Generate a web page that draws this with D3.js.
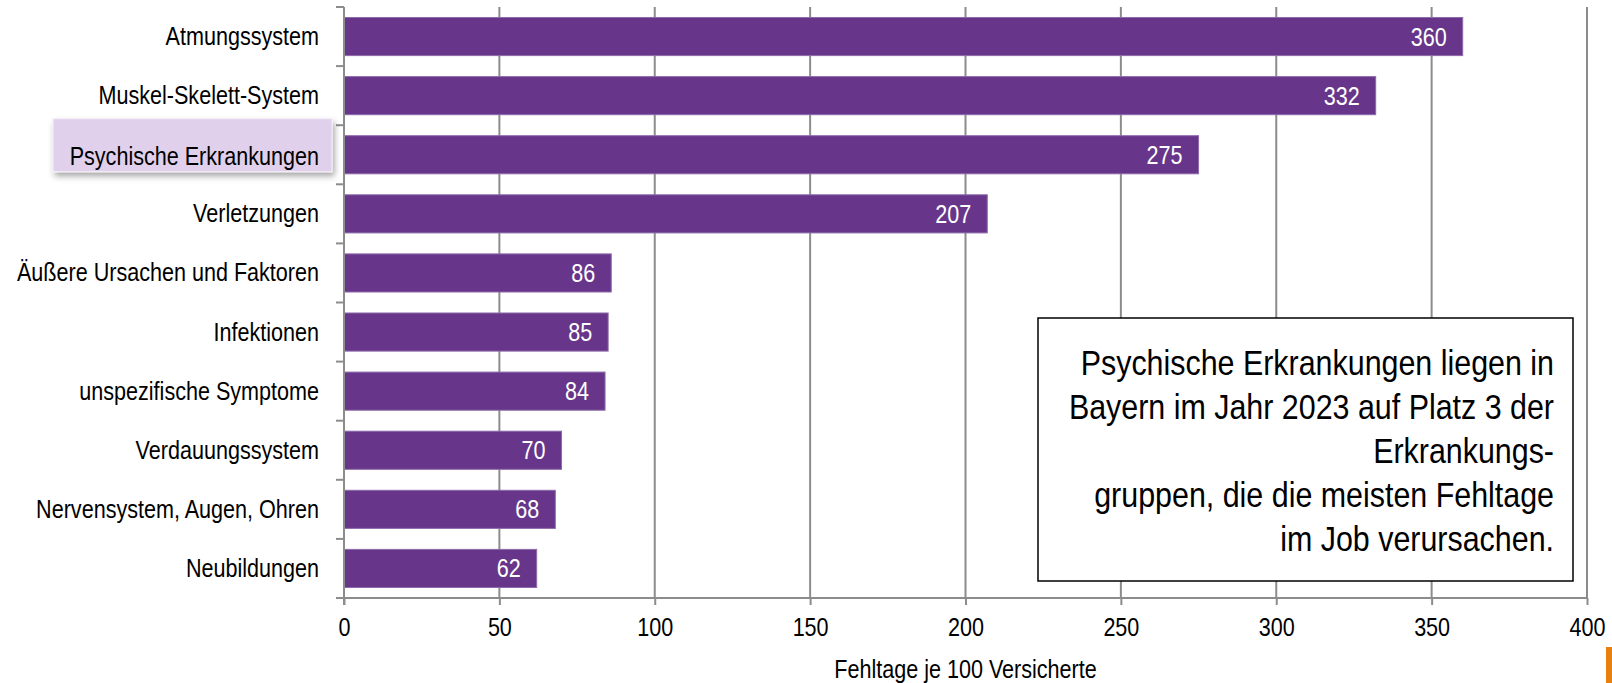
<!DOCTYPE html>
<html>
<head>
<meta charset="utf-8">
<script src="https://cdn.jsdelivr.net/npm/d3@7"></script>
<style>
  html, body { margin: 0; padding: 0; background: #fff; }
  svg { display: block; font-family: "Liberation Sans", Arial, sans-serif; }
</style>
</head>
<body>
<svg id="chart" width="1612" height="683"></svg>
<script>
const categories = [
  "Atmungssystem",
  "Muskel-Skelett-System",
  "Psychische Erkrankungen",
  "Verletzungen",
  "Äußere Ursachen und Faktoren",
  "Infektionen",
  "unspezifische Symptome",
  "Verdauungssystem",
  "Nervensystem, Augen, Ohren",
  "Neubildungen"
];
const values = [360, 332, 275, 207, 86, 85, 84, 70, 68, 62];
const xTicks = [0, 50, 100, 150, 200, 250, 300, 350, 400];
const highlighted = "Psychische Erkrankungen";
const axisTitle = "Fehltage je 100 Versicherte";
const noteLines = [
  "Psychische Erkrankungen liegen in",
  "Bayern im Jahr 2023 auf Platz 3 der",
  "Erkrankungs-",
  "gruppen, die die meisten Fehltage",
  "im Job verursachen."
];

(function () {
const svg = d3.select("#chart");
const pL = 344, pR = 1587, pT = 7, pB = 598;
const NS = 0.83; // narrow font emulation

const x = d3.scaleLinear().domain([0, 400]).range([pL, pR]);
const y = d3.scaleBand().domain(categories).range([pT, pB]).paddingInner(0.355).paddingOuter(0.1775);
const bandStep = y.step();

const defs = svg.append("defs");
const f = defs.append("filter").attr("id", "shadow").attr("x", "-10%").attr("y", "-30%").attr("width", "130%").attr("height", "180%");
f.append("feDropShadow").attr("dx", 2).attr("dy", 4).attr("stdDeviation", 3).attr("flood-color", "#000").attr("flood-opacity", 0.35);

// gridlines
svg.append("g").selectAll("line").data(xTicks.filter(d => d > 0)).join("line")
  .attr("x1", d => x(d)).attr("x2", d => x(d))
  .attr("y1", pT).attr("y2", pB)
  .attr("stroke", "#8c8c8c").attr("stroke-width", 2);

// bars
svg.append("g").selectAll("rect").data(values).join("rect")
  .attr("x", x(0))
  .attr("y", (d, i) => y(categories[i]))
  .attr("width", d => x(d) - x(0))
  .attr("height", y.bandwidth())
  .attr("fill", "#67368a")
  .attr("stroke", "#8d6bab").attr("stroke-width", 1);

// value labels
svg.append("g").selectAll("text").data(values).join("text")
  .attr("transform", (d, i) => `translate(${x(d) - 16},${y(categories[i]) + y.bandwidth() / 2 + 9}) scale(${NS},1)`)
  .attr("text-anchor", "end")
  .attr("fill", "#fff")
  .attr("font-size", 26)
  .text(d => d);

// x axis
const xAxis = d3.axisBottom(x).tickValues(xTicks).tickSize(7).tickPadding(8).tickFormat(d3.format("d"));
const gx = svg.append("g").attr("transform", `translate(0,${pB})`).call(xAxis);
gx.select(".domain").remove();
gx.attr("font-family", null).attr("font-size", null);
gx.selectAll(".tick line").attr("stroke", "#8c8c8c").attr("stroke-width", 2);
gx.selectAll(".tick text").attr("font-size", 26).attr("fill", "#000").attr("dy", "0.9em")
  .attr("transform", `scale(${NS},1)`);
svg.append("line").attr("x1", 336).attr("x2", pR).attr("y1", pB).attr("y2", pB)
  .attr("stroke", "#8c8c8c").attr("stroke-width", 2);

// y axis line and ticks
svg.append("line").attr("x1", pL).attr("x2", pL).attr("y1", pT).attr("y2", pB + 7)
  .attr("stroke", "#8c8c8c").attr("stroke-width", 2);
svg.append("g").selectAll("line").data(d3.range(categories.length)).join("line")
  .attr("x1", 336).attr("x2", pL)
  .attr("y1", i => pT + i * bandStep).attr("y2", i => pT + i * bandStep)
  .attr("stroke", "#8c8c8c").attr("stroke-width", 2);

// highlight box
const hb = y(highlighted);
svg.append("rect")
  .attr("x", 53).attr("y", hb - 17).attr("width", 279).attr("height", 53)
  .attr("fill", "#e0d0ec").attr("stroke", "#f6f0fa").attr("stroke-width", 1)
  .attr("filter", "url(#shadow)");

// category labels
svg.append("g").selectAll("text").data(categories).join("text")
  .attr("transform", d => `translate(319,${y(d) + y.bandwidth() / 2 + (d === highlighted ? 10.5 : 8.5)}) scale(${NS},1)`)
  .attr("text-anchor", "end")
  .attr("fill", "#000")
  .attr("font-size", 26)
  .text(d => d);

// axis title
svg.append("text")
  .attr("transform", `translate(${(pL + pR) / 2},678) scale(${NS},1)`)
  .attr("text-anchor", "middle").attr("font-size", 26).attr("fill", "#000")
  .text(axisTitle);

// annotation box
svg.append("rect").attr("x", 1038).attr("y", 318).attr("width", 535).attr("height", 263)
  .attr("fill", "#fff").attr("stroke", "#000").attr("stroke-width", 1.5);
svg.append("g").selectAll("text").data(noteLines).join("text")
  .attr("transform", (d, i) => `translate(1554,${375 + i * 44}) scale(0.845,1)`)
  .attr("text-anchor", "end").attr("font-size", 36).attr("fill", "#000")
  .text(d => d);

// orange corner mark
svg.append("rect").attr("x", 1606).attr("y", 647).attr("width", 6).attr("height", 36).attr("fill", "#e8800f");
})();
</script>
</body>
</html>
